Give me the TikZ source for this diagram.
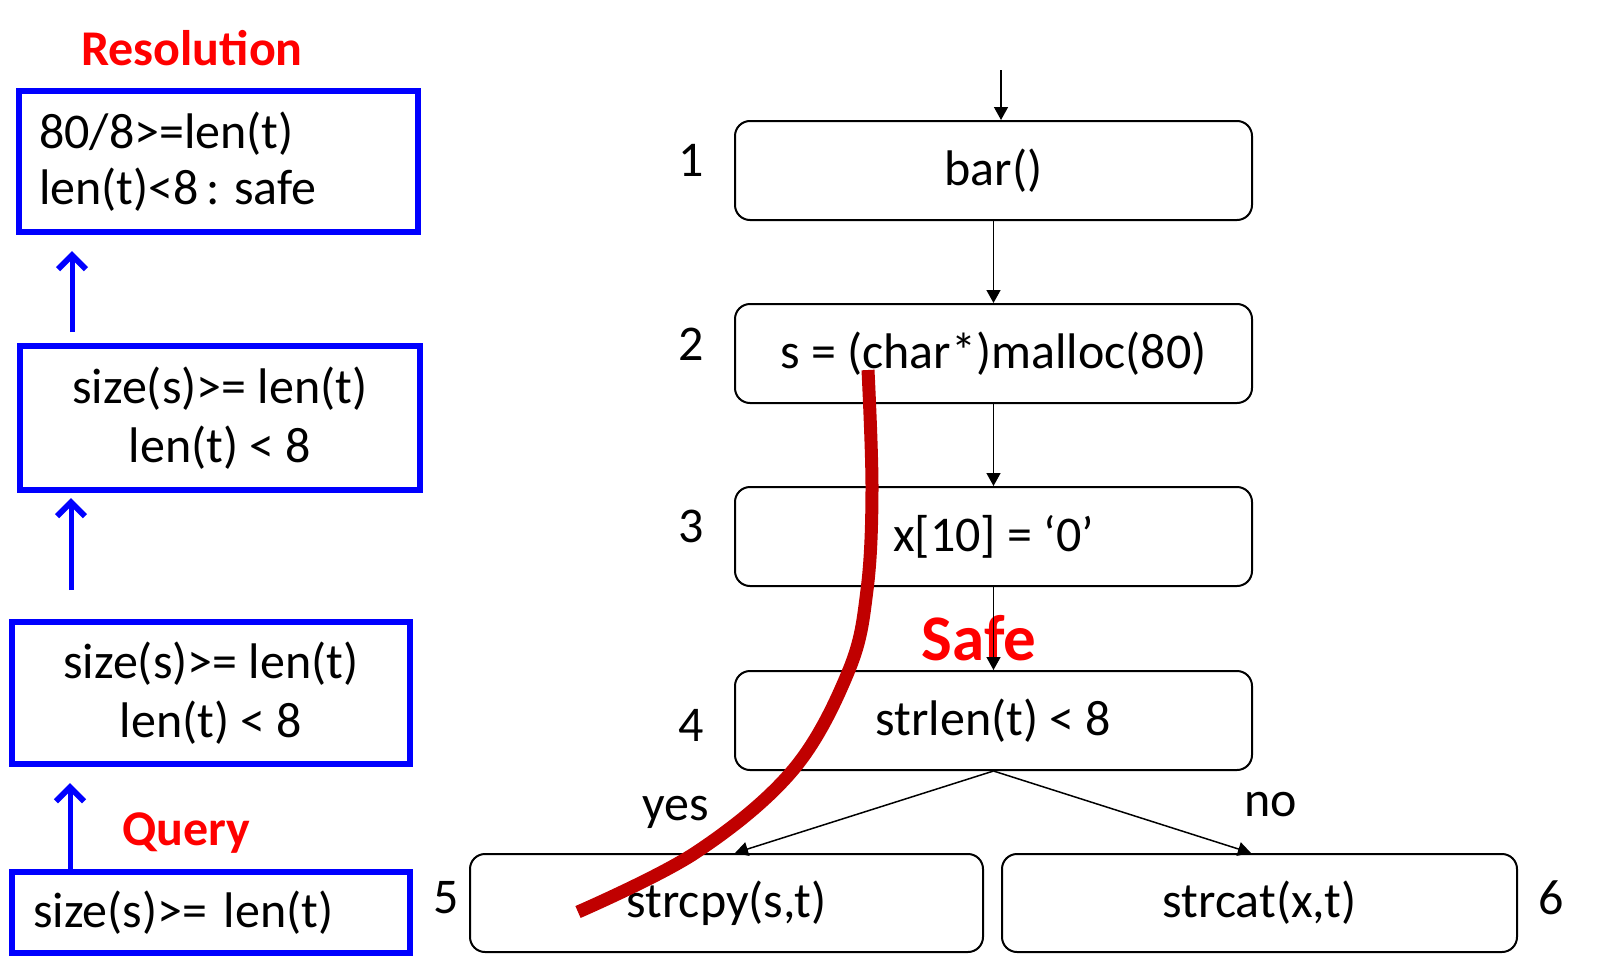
\documentclass[tikz,border=0pt]{standalone}
\usepackage{fontspec}
\setmainfont{Carlito}
\usetikzlibrary{arrows.meta}
\definecolor{pblue}{RGB}{0,0,255}
\definecolor{pred}{RGB}{255,0,0}
\definecolor{dred}{RGB}{192,0,0}
\frenchspacing
\begin{document}
\begin{tikzpicture}[x=1pt,y=-1pt,
  txt/.style={font=\fontsize{50}{59}\selectfont},
  qbox/.style={draw=pblue, line width=6pt, inner sep=0pt, txt},
  flowbox/.style={draw=black, line width=2pt, rounded corners=15pt, minimum width=517pt, minimum height=99pt, inner sep=0pt, txt},
  flow/.style={line width=1.5pt, -{Triangle[length=13pt,width=14pt]}},
  barrow/.style={draw=pblue, line width=5pt, -{Straight Barb[length=14pt,width=28pt,line width=6pt]}},
  title/.style={font=\fontsize{50}{60}\selectfont\bfseries, text=pred}
]
\useasboundingbox (0,0) rectangle (1618,972);

% flow graph boxes
\node[flowbox] (n1) at (993.5,170.5) {bar()};
\node[flowbox] (n2) at (993.5,353.5) {s = (char*)malloc(80)};
\node[flowbox] (n3) at (993.5,536.5) {x[10] = ‘0’};
\node[flowbox] (n4) at (993.5,720.5) {strlen(t) < 8};
\node[flowbox, minimum width=513pt, minimum height=98pt] (n5) at (726.5,903) {strcpy(s,t)};
\node[flowbox, minimum width=515pt, minimum height=98pt] (n6) at (1259.5,903) {strcat(x,t)};

% line numbers
\node[txt] (l1) at (691,160) {1};
\node[txt] (l2) at (691,344) {2};
\node[txt] (l3) at (691,526) {3};
\node[txt] (l4) at (691,725) {4};
\node[txt] (l5) at (446,898) {5};
\node[txt] (l6) at (1551,898) {6};

% branch labels
\node[txt] (yes) at (676,812) {yes};
\node[txt] (no) at (1271,805) {no};

% Safe
\node[font=\fontsize{65}{78}\selectfont\bfseries, text=pred] (safe) at (979,638) {Safe};

% flow arrows
\coordinate (top) at (1001,70);
\draw[flow] (top) -- (top |- n1.north);
\draw[flow] (n1.south) -- (n2.north);
\draw[flow] (n2.south) -- (n3.north);
\draw[flow] (n3.south) -- (n4.north);
\draw[flow] (n4.south) -- ([xshift=8.5pt]n5.north);
\draw[flow] (n4.south) -- ([xshift=-8.5pt]n6.north);

% left query boxes
\node[title] (res) at (192,48) {Resolution};
\node[qbox, font=\fontsize{50}{56}\selectfont, text width=359pt, inner xsep=20pt, minimum height=141pt, align=left] (r1) at (218.5,161.5) {80/8>=len(t)\\len(t)<8\kern8pt:\kern14pt safe};
\node[qbox, minimum width=400pt, minimum height=144pt, align=center] (r2) at (220,418) {size(s)>= len(t)\\len(t) < 8};
\node[qbox, minimum width=398pt, minimum height=142pt, align=center] (r3) at (211,693) {size(s)>= len(t)\\len(t) < 8};
\node[qbox, text width=356pt, inner xsep=21pt, minimum height=81pt, align=left] (r4) at (211,912.5) {size(s)>= len(t)};
\node[title] (qry) at (186,833) {Query};

% blue arrows
\coordinate (a1s) at (72,332);
\coordinate (a1e) at (72,251);
\coordinate (a2s) at (71,590);
\coordinate (a2e) at (71,498);
\coordinate (a3e) at (70,783);
\draw[barrow] (a1s) -- (a1e);
\draw[barrow] (a2s) -- (a2e);
\draw[barrow] (r4.north -| a3e) -- (a3e);

% red path
\draw[dred, line width=13pt] plot[smooth, tension=0.6] coordinates {(868,370) (872,490) (867,590) (849,670) (793,770) (695,853) (578,912)};
\end{tikzpicture}
\end{document}
